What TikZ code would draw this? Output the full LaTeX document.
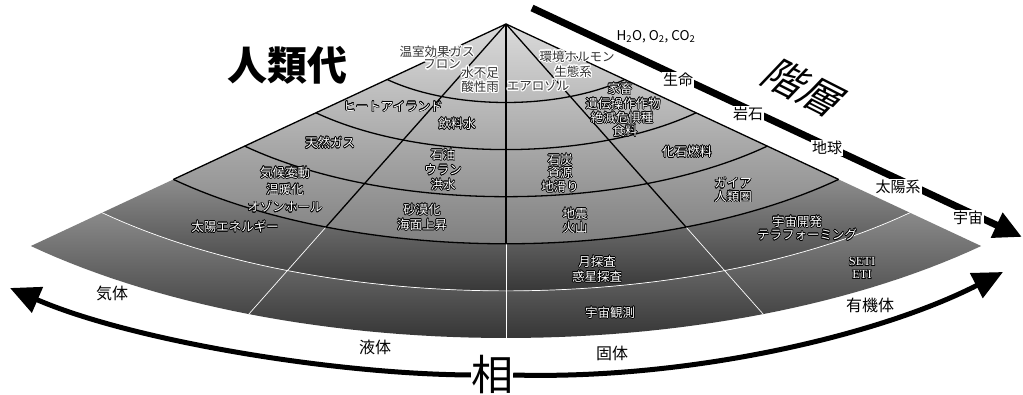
\documentclass[tikz,border=0pt]{standalone}
\usepackage{fontspec}
\usepackage[copies]{contour}
\usetikzlibrary{arrows.meta}
\newfontfamily\jp{Noto Sans CJK JP}
\newfontfamily\serl{Liberation Serif}
\definecolor{fanA}{HTML}{DADADA}
\definecolor{fanB}{HTML}{808080}
\definecolor{bandAt}{HTML}{8C8C8C}
\definecolor{bandAb}{HTML}{383838}
\definecolor{bandBt}{HTML}{8A8A8A}
\definecolor{bandBb}{HTML}{363636}
\newcommand\dk[1]{{\color{black!80}\contourlength{1.2pt}\contour{white}{#1}}}
\newcommand\wt[1]{{\color{white}\contourlength{0.6pt}\contour{black}{#1}}}
\begin{document}
\begin{tikzpicture}[x=1pt,y=-1pt,
  lab/.style={font=\jp\fontsize{12.5}{14}\selectfont, inner sep=0pt},
  serlab/.style={font=\serl\fontsize{12.5}{14}\selectfont, inner sep=0pt},
  side/.style={font=\jp\fontsize{15}{17}\selectfont, fill=white, inner sep=1.2pt},
  phase/.style={font=\jp\fontsize{16}{18}\selectfont, inner sep=0pt},
  blk/.style={line width=1.3pt, black, line join=round},
  wht/.style={line width=0.7pt, white},
  fanplot/.style={domain=-45:45, samples=61},
  fanback/.style={domain=45:-45, samples=61},
  bigarrow/.style={line width=5pt, -{Triangle[length=30pt,width=27pt]}}]
\useasboundingbox (0,0) rectangle (1023,395);
\coordinate (apex) at (506,24);

% fan shading
\shade[top color=fanA, bottom color=fanB] (apex) -- plot[fanplot] ({506+672*0.7*sin(\x)},{24+314*0.7*cos(\x)}) -- cycle;
\shade[top color=bandAt, bottom color=bandAb] plot[fanplot] ({506+672*0.85*sin(\x)},{24+314*0.85*cos(\x)}) -- plot[fanback] ({506+672*0.7*sin(\x)},{24+314*0.7*cos(\x)}) -- cycle;
\shade[top color=bandBt, bottom color=bandBb] plot[fanplot] ({506+672*sin(\x)},{24+314*cos(\x)}) -- plot[fanback] ({506+672*0.85*sin(\x)},{24+314*0.85*cos(\x)}) -- cycle;

% grid lines
\foreach \a in {-22.5,0,22.5}
  \draw[wht] ({506+672*0.7*sin(\a)},{24+314*0.7*cos(\a)}) -- ({506+672*sin(\a)},{24+314*cos(\a)});
\draw[wht] plot[fanplot] ({506+672*0.85*sin(\x)},{24+314*0.85*cos(\x)});
\foreach \r in {0.25,0.4,0.55,0.7}
  \draw[blk] plot[fanplot] ({506+672*\r*sin(\x)},{24+314*\r*cos(\x)});
\foreach \a in {-45,-22.5,0,22.5,45}
  \draw[blk] (apex) -- ({506+672*0.7*sin(\a)},{24+314*0.7*cos(\a)});

% fan labels, inner band
\node[lab] (l1) at (437,52) {\dk{温室効果ガス}};
\node[lab] (l2) at (442,65) {\dk{フロン}};
\node[lab] (l3) at (480,73) {\dk{水不足}};
\node[lab] (l4) at (480,87) {\dk{酸性雨}};
\node[lab] (l5) at (538,86) {\dk{エアロゾル}};
\node[lab] (l6) at (577,57) {\dk{環境ホルモン}};
\node[lab] (l7) at (573,72) {\dk{生態系}};
% band 2
\node[lab] (m1) at (393,107) {\wt{ヒートアイランド}};
\node[lab] (m2) at (457,124) {\wt{飲料水}};
\node[lab] (m3) at (620,89) {\wt{家畜}};
\node[lab] (m4) at (623,104) {\wt{遺伝操作作物}};
\node[lab] (m5) at (622,118) {\wt{絶滅危惧種}};
\node[lab] (m6) at (625,131) {\wt{食料}};
% band 3
\node[lab] (n1) at (330,143) {\wt{天然ガス}};
\node[lab] (n2) at (443,155) {\wt{石油}};
\node[lab] (n3) at (443,170) {\wt{ウラン}};
\node[lab] (n4) at (443,185) {\wt{洪水}};
\node[lab] (n5) at (560,160) {\wt{石炭}};
\node[lab] (n6) at (560,173) {\wt{資源}};
\node[lab] (n7) at (560,187) {\wt{地滑り}};
\node[lab] (n8) at (687,152) {\wt{化石燃料}};
% band 4
\node[lab] (o1) at (285,173) {\wt{気候変動}};
\node[lab] (o2) at (285,190) {\wt{温暖化}};
\node[lab] (o3) at (285,207) {\wt{オゾンホール}};
\node[lab] (o4) at (422,210) {\wt{砂漠化}};
\node[lab] (o5) at (422,225) {\wt{海面上昇}};
\node[lab] (o6) at (575,214) {\wt{地震}};
\node[lab] (o7) at (575,228) {\wt{火山}};
\node[lab] (o8) at (733,183) {\wt{ガイア}};
\node[lab] (o9) at (733,197) {\wt{人類圏}};
% band 5
\node[lab] (p1) at (235,227) {\wt{太陽エネルギー}};
\node[lab] (p2) at (797,222) {\wt{宇宙開発}};
\node[lab] (p3) at (807,235) {\wt{テラフォーミング}};
\node[lab] (p4) at (597,262) {\wt{月探査}};
\node[lab] (p5) at (597,277) {\wt{惑星探査}};
% band 6
\node[serlab] (q1) at (862,262) {\wt{SETI}};
\node[serlab] (q2) at (862,275) {\wt{ETI}};
\node[lab] (q3) at (610,313) {\wt{宇宙観測}};

% hierarchy arrow
\coordinate (dstart) at (532,8);
\coordinate (dend) at (1022,237);
\draw[line width=7pt, -{Triangle[length=28pt,width=26pt]}] (dstart) -- (dend);
\node[font=\jp\fontsize{13.5}{15}\selectfont, inner sep=0.5pt] (h2o) at (656,37) {H\textsubscript{2}O, O\textsubscript{2}, CO\textsubscript{2}};
\node[side] (s1) at (678,80) {生命};
\node[side] (s2) at (748,114) {岩石};
\node[side] (s3) at (827,148) {地球};
\node[side] (s4) at (898,187) {太陽系};
\node[side] (s5) at (968,218) {宇宙};

% titles
\node[font=\jp\bfseries\fontsize{40}{44}\selectfont, inner sep=0pt] (era) at (287,65) {人類代};
\begin{scope}[shift={(805,88)}, rotate=-27, xslant=0.3, transform shape]
\node[font=\jp\fontsize{40}{44}\selectfont, inner sep=0pt] (hier) at (0,0) {階層};
\end{scope}
\node[font=\jp\fontsize{42}{46}\selectfont, inner sep=0pt] (sou) at (492,375) {相};

% phase arrows
\coordinate (tipL) at (10,288);
\coordinate (tipR) at (1003,272);
\draw[bigarrow] (sou.west) .. controls (330,374) and (130,340) .. (tipL);
\draw[bigarrow] (sou.east) .. controls (690,380) and (880,335) .. (tipR);
\node[phase] (g1) at (112,293) {気体};
\node[phase] (g2) at (375,347) {液体};
\node[phase] (g3) at (612,353) {固体};
\node[phase] (g4) at (870,305) {有機体};
\end{tikzpicture}
\end{document}
